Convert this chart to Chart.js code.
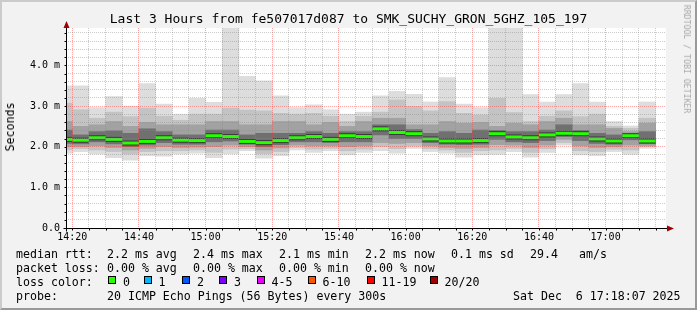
<!DOCTYPE html>
<html>
<head>
<meta charset="utf-8">
<script src="https://cdn.jsdelivr.net/npm/chart.js@4.4.1/dist/chart.umd.min.js"></script>
<style>
    html, body { margin: 0; padding: 0; }
    body { width: 697px; height: 310px; overflow: hidden; position: relative; font-family: 'DejaVu Sans Mono', monospace; }
    #frame {
        position: absolute; left: 0; top: 0; width: 697px; height: 310px; box-sizing: border-box;
        background: #f2f2f2;
        border-top: 2px solid #cbcbcb; border-left: 2px solid #cbcbcb;
        border-right: 2px solid #999999; border-bottom: 2px solid #999999;
    }
    #chart { position: absolute; left: 0; top: 0; }
    .txt { position: absolute; font-size: 11.6px; line-height: 14px; color: #000; white-space: pre; }
    .box { position: absolute; width: 8px; height: 8px; box-sizing: border-box; border: 1px solid #000; }
</style>
</head>
<body>
<div id="frame"></div>
<canvas id="chart" width="697" height="310"></canvas>
<div id="texts"></div>

<script>
// --- data (ms), one entry per 5 minute bin, bins end at the times below ---
const binEnds = ['14:20','14:25','14:30','14:35','14:40','14:45','14:50','14:55','15:00','15:05','15:10','15:15',
                 '15:20','15:25','15:30','15:35','15:40','15:45','15:50','15:55','16:00','16:05','16:10','16:15',
                 '16:20','16:25','16:30','16:35','16:40','16:45','16:50','16:55','17:00','17:05','17:10','17:15'];

const maxRtt = [3.50,3.50,2.96,3.23,3.00,3.55,3.05,2.80,3.19,3.09,4.93,3.73,3.62,3.25,2.96,3.03,2.91,2.80,
                2.85,3.25,3.36,3.29,3.10,3.70,3.05,2.96,4.93,4.93,3.28,3.10,3.28,3.55,3.10,2.62,2.51,3.10];
const hi2    = [3.07,2.91,2.70,2.85,2.74,2.95,2.75,2.65,2.80,2.80,2.95,2.90,2.88,2.82,2.80,2.82,2.75,2.62,
                2.75,2.85,3.15,2.99,2.88,3.11,2.82,2.78,3.19,2.84,2.62,2.75,2.88,2.74,2.80,2.50,2.45,2.70];
const hi3    = [2.62,2.50,2.54,2.62,2.50,2.60,2.54,2.54,2.54,2.62,2.62,2.54,2.54,2.62,2.62,2.54,2.60,2.50,
                2.62,2.70,2.70,2.54,2.54,2.62,2.58,2.60,2.50,2.58,2.54,2.62,2.70,2.54,2.54,2.45,2.37,2.58];
const hi4    = [2.41,2.29,2.37,2.39,2.33,2.44,2.37,2.29,2.29,2.41,2.41,2.29,2.33,2.33,2.33,2.37,2.33,2.37,
                2.37,2.54,2.54,2.42,2.33,2.37,2.33,2.41,2.40,2.37,2.37,2.41,2.54,2.40,2.33,2.29,2.32,2.37];
const median = [2.18,2.16,2.22,2.18,2.09,2.13,2.22,2.16,2.15,2.27,2.25,2.13,2.10,2.15,2.22,2.25,2.18,2.27,
                2.25,2.44,2.35,2.32,2.19,2.14,2.14,2.15,2.32,2.24,2.22,2.29,2.33,2.32,2.19,2.14,2.27,2.14];
const lo4    = [2.08,2.07,2.12,2.07,2.00,2.04,2.10,2.06,2.06,2.12,2.14,2.06,2.00,2.05,2.12,2.12,2.10,2.12,
                2.12,2.29,2.20,2.20,2.10,2.06,2.05,2.06,2.18,2.12,2.10,2.15,2.25,2.15,2.08,2.06,2.17,2.08];
const lo3    = [2.00,2.00,2.02,1.98,1.92,1.96,2.00,1.98,1.99,2.00,2.04,2.00,1.92,1.97,2.04,2.02,2.02,2.00,
                2.02,2.10,2.08,2.10,2.02,1.98,1.96,1.98,2.05,2.04,1.98,2.04,2.18,2.02,1.98,2.00,2.04,2.03];
const lo2    = [1.93,1.95,1.92,1.88,1.82,1.88,1.90,1.90,1.92,1.86,1.94,1.95,1.83,1.88,1.98,1.94,1.96,1.90,
                1.94,2.00,1.95,2.02,1.95,1.92,1.86,1.90,1.92,1.96,1.86,1.95,2.10,1.90,1.88,1.94,1.92,2.00];
const minRtt = [1.84,1.88,1.82,1.73,1.67,1.78,1.77,1.82,1.84,1.73,1.82,1.90,1.72,1.78,1.92,1.86,1.90,1.80,
                1.86,1.90,1.84,1.96,1.88,1.84,1.74,1.80,1.81,1.88,1.74,1.86,2.04,1.80,1.78,1.88,1.81,1.96];
const lossCount = [0,0,0,0,0,0,0,0,0,0,0,0,0,0,0,0,0,0,0,0,0,0,0,0,0,0,0,0,0,0,0,0,0,0,0,0];

// --- axes ---
const xTickLabels = ['14:20','14:40','15:00','15:20','15:40','16:00','16:20','16:40','17:00'];
const yTickLabels = ['0.0','1.0 m','2.0 m','3.0 m','4.0 m'];
const windowStart = '14:18:07';
const windowEnd = '17:18:07';
const yMax = 4.92;

// --- legend ---
const lossLabels = ['0','1','2','3','4-5','6-10','11-19','20/20'];
const lossUpper  = [0, 1, 2, 3, 5, 10, 19, 20];
const lossColors = ['#26ff00','#00b8ff','#0059ff','#7e00ff','#ee00ff','#ff5500','#ff0000','#a10000'];
const statsRtt  = ['2.2 ms avg','2.4 ms max','2.1 ms min','2.2 ms now','0.1 ms sd','29.4','am/s'];
const statsLoss = ['0.00 % avg','0.00 % max','0.00 % min','0.00 % now'];

const BIN = 5;
const FONT = 'DejaVu Sans Mono';

function toMinutes(t) {
    const p = t.split(':').map(Number);
    return (p[0] - 14) * 60 + p[1] + (p[2] || 0) / 60;
}
function toLabel(m) {
    const mm = Math.round(m);
    const h = 14 + Math.floor(mm / 60), r = mm % 60;
    return h + ':' + String(r).padStart(2, '0');
}
function lossColor(n) {
    const i = lossUpper.findIndex(u => n <= u);
    return lossColors[i < 0 ? lossColors.length - 1 : i];
}

const centers = binEnds.map(t => toMinutes(t) - BIN / 2);

const xTicks = [];
for (let m = Math.ceil(toMinutes(windowStart) / BIN) * BIN; m < toMinutes(windowEnd); m += BIN) xTicks.push(m);
const yTicks = [];
for (let i = 0; i * 0.2 < yMax; i++) yTicks.push(+(i * 0.2).toFixed(1));

const layers = [
    { lo: minRtt, hi: maxRtt, color: '#dddddd' },
    { lo: lo2, hi: hi2, color: '#c3c3c3' },
    { lo: lo3, hi: hi3, color: '#a2a2a2' },
    { lo: lo4, hi: hi4, color: '#707070' }
];

const datasets = layers.map((l, i) => ({
    type: 'bar',
    data: centers.map((c, k) => ({ x: c, y: [l.lo[k], l.hi[k]] })),
    backgroundColor: l.color,
    borderWidth: 0,
    grouped: false,
    barPercentage: 1,
    categoryPercentage: 1,
    clip: 0,
    order: 10 - i
}));

function halfBin(c) {
    const s = c.chart.scales.x;
    if (!s) return 8;
    return (s.getPixelForValue(BIN) - s.getPixelForValue(0)) / 2;
}

const medianPoints = centers.map((c, k) => ({ x: c, y: median[k] }));
datasets.push({
    type: 'line', data: medianPoints, showLine: false, clip: 0, order: 2,
    pointStyle: 'line', pointRadius: halfBin, pointBorderWidth: 5,
    pointBorderColor: '#3a3a3a', pointBackgroundColor: '#3a3a3a'
});
datasets.push({
    type: 'line', data: medianPoints, showLine: false, clip: 0, order: 1,
    pointStyle: 'line', pointRadius: halfBin, pointBorderWidth: 3,
    pointBorderColor: lossCount.map(lossColor), pointBackgroundColor: lossCount.map(lossColor)
});

const isMajor = (v, step) => Math.abs(v / step - Math.round(v / step)) < 1e-6;

const plotBackground = {
    id: 'plotBackground',
    beforeDraw(chart) {
        const { ctx, chartArea: a } = chart;
        ctx.save();
        ctx.fillStyle = '#ffffff';
        ctx.fillRect(a.left, a.top, a.right - a.left, a.bottom - a.top);
        ctx.restore();
    }
};

const axisArrows = {
    id: 'axisArrows',
    afterDraw(chart) {
        const { ctx, chartArea: a, scales } = chart;
        const x0 = Math.round(a.left) + 0.5, y0 = Math.round(a.bottom) + 0.5;
        ctx.save();
        ctx.strokeStyle = '#000000';
        ctx.lineWidth = 1;
        ctx.beginPath();
        ctx.moveTo(x0, y0 + 3); ctx.lineTo(x0, a.top - 1);
        ctx.moveTo(x0 - 3, y0); ctx.lineTo(a.right + 2, y0);
        xTicks.forEach(v => {
            const px = Math.round(scales.x.getPixelForValue(v)) + 0.5;
            ctx.moveTo(px, y0); ctx.lineTo(px, y0 + 2);
        });
        yTicks.forEach(v => {
            const py = Math.round(scales.y.getPixelForValue(v)) + 0.5;
            ctx.moveTo(x0, py); ctx.lineTo(x0 - 2, py);
        });
        ctx.stroke();
        ctx.fillStyle = '#a00000';
        ctx.beginPath();
        ctx.moveTo(x0, a.top - 7); ctx.lineTo(x0 - 3, a.top); ctx.lineTo(x0 + 3, a.top); ctx.closePath();
        ctx.moveTo(a.right + 8, y0); ctx.lineTo(a.right + 1, y0 - 3); ctx.lineTo(a.right + 1, y0 + 3); ctx.closePath();
        ctx.fill();
        ctx.restore();
    }
};

new Chart(document.getElementById('chart'), {
    type: 'bar',
    data: { datasets },
    options: {
        responsive: false,
        animation: false,
        events: [],
        layout: { padding: { left: 0, right: 31, top: 28, bottom: 62 } },
        plugins: { legend: { display: false }, tooltip: { enabled: false }, title: { display: false } },
        scales: {
            x: {
                type: 'linear',
                min: toMinutes(windowStart),
                max: toMinutes(windowEnd),
                offset: false,
                afterBuildTicks: s => { s.ticks = xTicks.map(v => ({ value: v })); },
                afterFit: s => { s.height = 20; },
                ticks: {
                    autoSkip: false, maxRotation: 0, padding: 3, color: '#000',
                    font: { family: FONT, size: 10 },
                    callback: v => { const t = toLabel(v); return xTickLabels.includes(t) ? t : ''; }
                },
                grid: {
                    drawTicks: false, offset: false, z: 1, lineWidth: 1,
                    color: c => (c.tick && isMajor(c.tick.value, 20)) ? 'rgba(255,60,60,0.45)' : 'rgba(140,140,140,0.45)'
                },
                border: { display: false, dash: [1, 1] }
            },
            y: {
                min: 0,
                max: yMax,
                afterBuildTicks: s => { s.ticks = yTicks.map(v => ({ value: v })); },
                afterFit: s => { s.width = 66; },
                ticks: {
                    autoSkip: false, padding: 6, color: '#000',
                    font: { family: FONT, size: 10 },
                    callback: v => isMajor(v, 1) ? yTickLabels[Math.round(v)] : ''
                },
                grid: {
                    drawTicks: false, z: 1, lineWidth: 1,
                    color: c => (c.tick && isMajor(c.tick.value, 1)) ? 'rgba(255,60,60,0.45)' : 'rgba(140,140,140,0.45)'
                },
                border: { display: false, dash: [1, 1] }
            }
        }
    },
    plugins: [plotBackground, axisArrows]
});

// --- text around the plot ---
const texts = document.getElementById('texts');
function addText(str, left, top, extra) {
    const d = document.createElement('div');
    d.className = 'txt';
    d.textContent = str;
    d.style.left = left + 'px';
    d.style.top = top + 'px';
    if (extra) Object.assign(d.style, extra);
    texts.appendChild(d);
    return d;
}

addText('Last 3 Hours from fe507017d087 to SMK_SUCHY_GRON_5GHZ_105_197', 0, 11,
    { width: '697px', textAlign: 'center', fontSize: '13px', lineHeight: '16px' });
addText('Seconds', 10, 127,
    { transform: 'translate(-50%,-50%) rotate(-90deg)' });
addText('RRDTOOL / TOBI OETIKER', 687, 59,
    { transform: 'translate(-50%,-50%) rotate(90deg)', fontSize: '8.2px', color: '#a8a8a8', lineHeight: '10px' });

const colX = [107, 193, 279, 365, 451, 530, 579];
addText('median rtt:', 16, 247);
statsRtt.forEach((s, i) => addText(s, colX[i], 247));
addText('packet loss:', 16, 261);
statsLoss.forEach((s, i) => addText(s, colX[i], 261));
addText('loss color:', 16, 275);
const boxX = [108, 143.5, 182, 219, 256.5, 307.5, 366.5, 429.5];
lossLabels.forEach((l, i) => {
    const b = document.createElement('div');
    b.className = 'box';
    b.style.left = boxX[i] + 'px';
    b.style.top = '276px';
    b.style.background = lossColors[i];
    texts.appendChild(b);
    addText(l, boxX[i] + 15, 275);
});
addText('probe:', 16, 289);
addText('20 ICMP Echo Pings (56 Bytes) every 300s', 107, 289);
addText('Sat Dec  6 17:18:07 2025', 513, 289);
</script>
</body>
</html>
